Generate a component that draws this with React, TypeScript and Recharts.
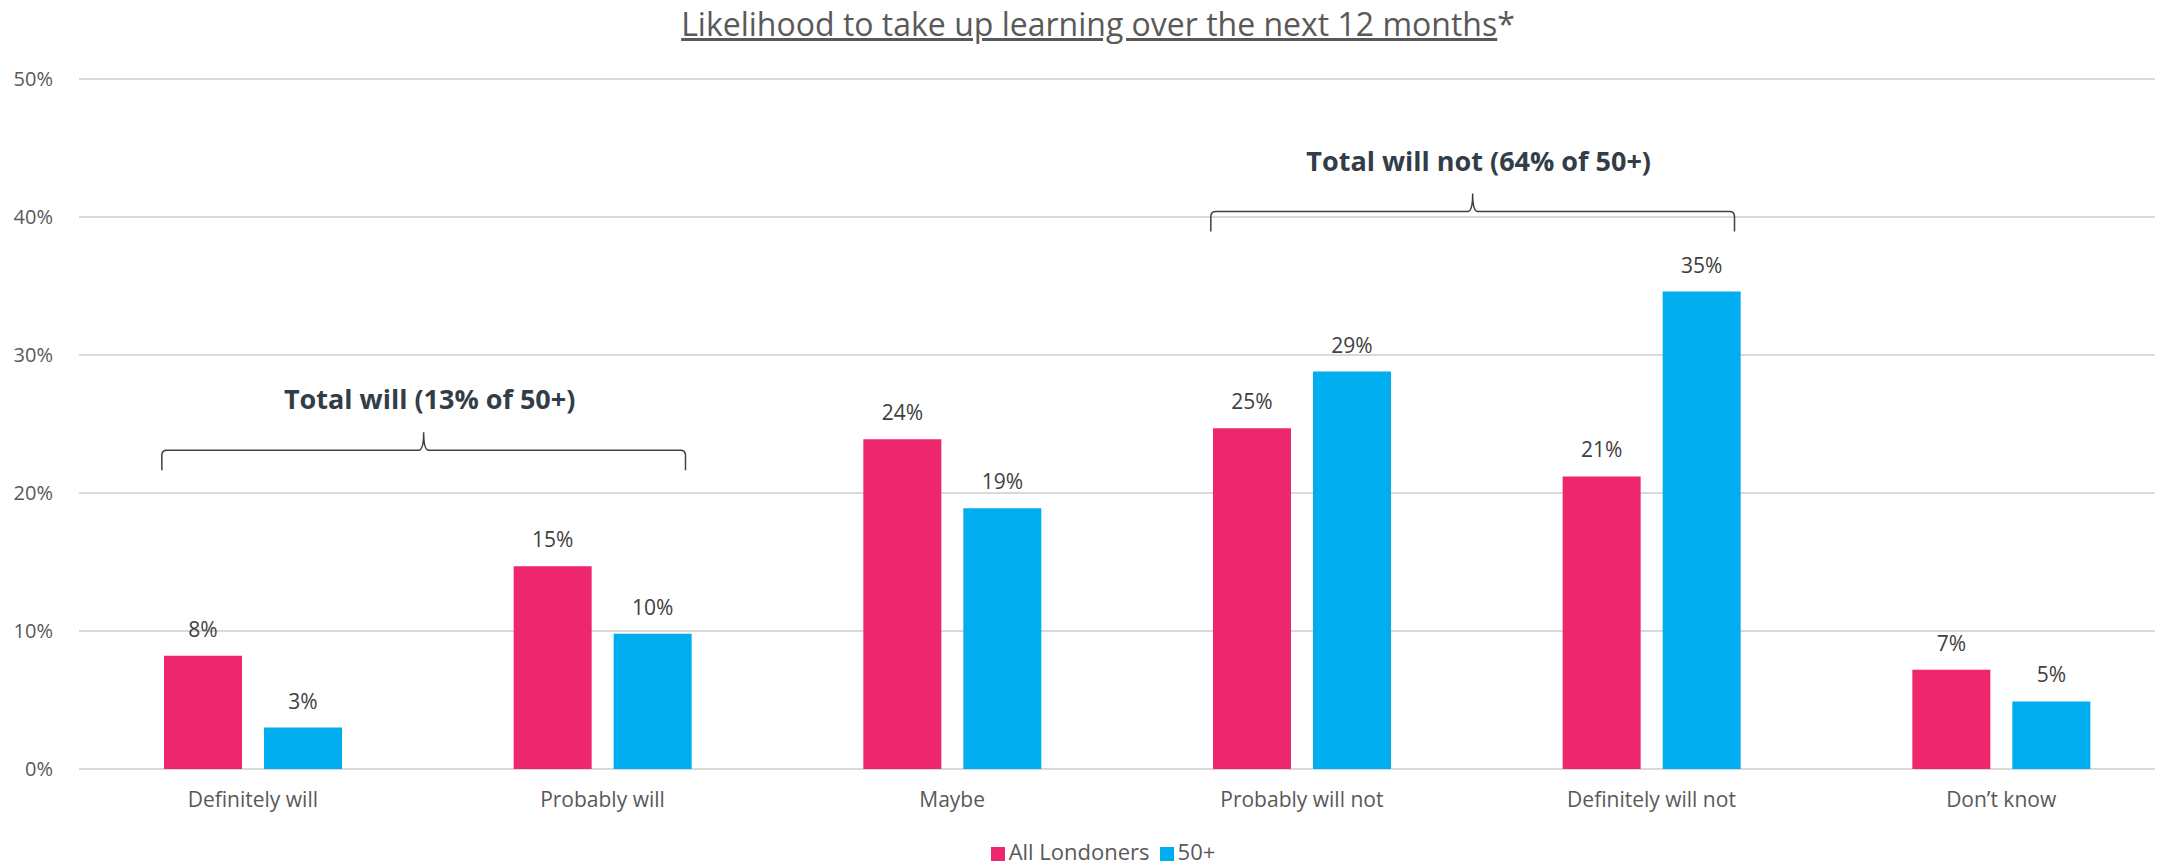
import { BarChart, Bar, XAxis, YAxis, CartesianGrid, Legend, LabelList } from 'recharts';

const categories = ['Definitely will', 'Probably will', 'Maybe', 'Probably will not', 'Definitely will not', 'Don\u2019t know'];
const allLondoners = [8.2, 14.7, 23.9, 24.7, 21.2, 7.2];
const over50 = [3.0, 9.8, 18.9, 28.8, 34.6, 4.9];
const yTicks = [0, 10, 20, 30, 40, 50];

const brackets = [
  { label: 'Total will (13% of 50+)', from: 0, to: 1, level: 23.1 },
  { label: 'Total will not (64% of 50+)', from: 3, to: 4, level: 40.4 },
];

const data = categories.map((name, i) => ({ name, all: allLondoners[i], over50: over50[i] }));

const W = 2176;
const H = 865;
const M = { top: 79, right: 0, left: 0, bottom: 0 };
const Y_AXIS_W = 78;
const X_AXIS_H = 69;
const LEGEND_H = 27;
const GRID_W = 2076;
const FONT = '"Open Sans", sans-serif';
const PINK = '#ee266d';
const BLUE = '#00aeef';
const BAR = 78;
const GAP = 22;

// same layout the chart uses, for placing the brace annotations
const plotLeft = M.left + Y_AXIS_W;
const plotWidth = W - plotLeft - M.right;
const plotTop = M.top;
const plotHeight = H - M.top - M.bottom - X_AXIS_H - LEGEND_H;
const band = plotWidth / categories.length;
const xCenter = (i: number) => plotLeft + band * (i + 0.5);
const yPos = (v: number) => plotTop + plotHeight * (1 - v / 50);

const pct = (v: any) => `${Math.round(Number(v))}%`;

function Braces() {
  return (
    <svg width={W} height={H} style={{ position: 'absolute', left: 0, top: 0, pointerEvents: 'none' }}>
      {brackets.map((b) => {
        const half = BAR + GAP / 2;
        const x1 = xCenter(b.from) - half - 2;
        const x2 = xCenter(b.to) + half - 6;
        const mid = (x1 + x2) / 2;
        const y = yPos(b.level);
        const r = 5;
        const d = `M${x1},${y + 20} L${x1},${y + r} Q${x1},${y} ${x1 + r},${y} L${mid - r},${y} Q${mid},${y} ${mid},${y - 18} Q${mid},${y} ${mid + r},${y} L${x2 - r},${y} Q${x2},${y} ${x2},${y + r} L${x2},${y + 20}`;
        return (
          <g key={b.label}>
            <path d={d} fill="none" stroke="#404040" strokeWidth={1.5} />
            <text x={mid + 6} y={y - 48} textAnchor="middle" dominantBaseline="middle" fontFamily={FONT} fontWeight={700} fontSize={27} fill="#333d47">
              {b.label}
            </text>
          </g>
        );
      })}
    </svg>
  );
}

export default function App() {
  return (
    <div style={{ position: 'absolute', left: 0, top: 0, width: W, height: H, background: '#fff', fontFamily: FONT }}>
      <div style={{ position: 'absolute', top: 2, left: 0, width: W, textAlign: 'center', fontSize: 32, color: '#595959', zIndex: 2, paddingLeft: 20, boxSizing: 'border-box' }}>
        <span style={{ textDecoration: 'underline' }}>Likelihood to take up learning over the next 12 months</span>*
      </div>
      <BarChart width={W} height={H} data={data} margin={M} barSize={BAR} barGap={GAP}>
        <CartesianGrid vertical={false} stroke="#d9d9d9" strokeWidth={2} x={plotLeft + 1} width={GRID_W} />
        <XAxis
          dataKey="name"
          axisLine={false}
          tickLine={false}
          height={X_AXIS_H}
          tickMargin={17}
          tick={{ fill: '#595959', fontSize: 21, fontFamily: FONT }}
        />
        <YAxis
          domain={[0, 50]}
          ticks={yTicks}
          tickFormatter={(v) => `${v}%`}
          axisLine={false}
          tickLine={false}
          width={Y_AXIS_W}
          tickMargin={19}
          tick={{ fill: '#595959', fontSize: 20, fontFamily: FONT }}
        />
        <Legend
          verticalAlign="bottom"
          iconType="square"
          iconSize={14}
          itemSorter="dataKey"
          wrapperStyle={{ fontSize: 22, fontFamily: FONT, lineHeight: '27px', paddingLeft: 20 }}
          formatter={(value) => <span style={{ color: '#595959' }}>{value}</span>}
        />
        <Bar dataKey="all" name="All Londoners" fill={PINK} isAnimationActive={false}>
          <LabelList dataKey="all" position="top" offset={19} formatter={pct} fill="#404040" fontSize={21} fontFamily={FONT} />
        </Bar>
        <Bar dataKey="over50" name="50+" fill={BLUE} isAnimationActive={false}>
          <LabelList dataKey="over50" position="top" offset={19} formatter={pct} fill="#404040" fontSize={21} fontFamily={FONT} />
        </Bar>
      </BarChart>
      <Braces />
    </div>
  );
}
